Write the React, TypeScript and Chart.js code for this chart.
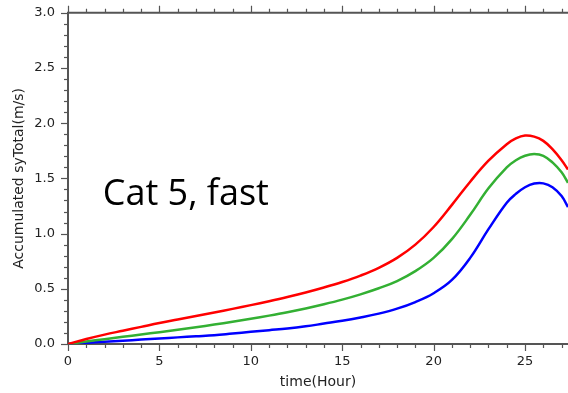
import React, { useEffect, useRef } from "react";
import { Chart, registerables } from "chart.js";

Chart.register(...registerables);

const timeHours = [0, 1, 2, 3, 4, 5, 6, 7, 8, 9, 10, 11, 12, 13, 14, 15, 16, 17, 18, 19, 20, 21, 22, 23, 24, 24.5, 25, 25.5, 26, 26.5, 27, 27.35];
const redSeries = [0, 0.045, 0.085, 0.12, 0.155, 0.19, 0.222, 0.254, 0.286, 0.318, 0.352, 0.388, 0.426, 0.467, 0.512, 0.562, 0.62, 0.69, 0.78, 0.9, 1.06, 1.26, 1.47, 1.66, 1.81, 1.862, 1.888, 1.878, 1.84, 1.765, 1.665, 1.58];
const greenSeries = [0, 0.022, 0.044, 0.065, 0.086, 0.107, 0.129, 0.152, 0.176, 0.201, 0.228, 0.257, 0.288, 0.322, 0.36, 0.402, 0.45, 0.505, 0.57, 0.66, 0.78, 0.95, 1.17, 1.41, 1.6, 1.665, 1.705, 1.72, 1.705, 1.645, 1.555, 1.46];
const blueSeries = [0, 0.01, 0.02, 0.03, 0.04, 0.05, 0.06, 0.07, 0.08, 0.095, 0.11, 0.125, 0.14, 0.16, 0.185, 0.21, 0.24, 0.275, 0.32, 0.38, 0.46, 0.58, 0.78, 1.04, 1.28, 1.36, 1.42, 1.453, 1.455, 1.42, 1.34, 1.24];

const xMin = 0;
const xMax = 27.35;
const yMin = 0;
const yMax = 3.0;
const xTickLabels = [0, 5, 10, 15, 20, 25];
const annotationText = "Cat 5, fast";
const xTitle = "time(Hour)";
const yTitle = "Accumulated syTotal(m/s)";

const toPoints = (vals: number[]) => vals.map((v, i) => ({ x: timeHours[i], y: v }));

const tickPlugin = {
  id: "ncarTicks",
  afterDraw(chart: any) {
    const ctx = chart.ctx;
    const area = chart.chartArea;
    const xs = chart.scales.x;
    const ys = chart.scales.y;
    ctx.save();
    ctx.strokeStyle = "#555";
    ctx.lineWidth = 2;
    ctx.beginPath();
    ctx.moveTo(area.left - 1, area.top);
    ctx.lineTo(area.right, area.top);
    ctx.stroke();
    ctx.lineWidth = 1.2;
    for (let t = 0; t <= Math.floor(xMax); t += 1) {
      const px = Math.round(xs.getPixelForValue(t)) + 0.5;
      const len = t % 5 === 0 ? 7 : 4;
      ctx.beginPath();
      ctx.moveTo(px, area.bottom);
      ctx.lineTo(px, area.bottom + len);
      ctx.moveTo(px, area.top);
      ctx.lineTo(px, area.top - len);
      ctx.stroke();
    }
    for (let k = 0; k <= 30; k += 1) {
      const v = k / 10;
      const py = Math.round(ys.getPixelForValue(v)) + 0.5;
      const len = k % 5 === 0 ? 7 : 4;
      ctx.beginPath();
      ctx.moveTo(area.left, py);
      ctx.lineTo(area.left - len, py);
      ctx.stroke();
    }
    ctx.fillStyle = "#000";
    ctx.font = '36px "Open Sans"';
    ctx.textBaseline = "alphabetic";
    ctx.textAlign = "left";
    ctx.fillText(annotationText, xs.getPixelForValue(1.9), ys.getPixelForValue(1.26));
    ctx.restore();
  },
};

export default function App() {
  const canvasRef = useRef<HTMLCanvasElement | null>(null);

  useEffect(() => {
    if (!canvasRef.current) return;
    const lineDs = (label: string, vals: number[], color: string) => ({
      label,
      data: toPoints(vals),
      borderColor: color,
      backgroundColor: color,
      borderWidth: 2.5,
      pointRadius: 0,
      fill: false,
      tension: 0.4,
    });
    const tickFont = { family: '"DejaVu Sans", sans-serif', size: 13 };
    const titleFont = { family: '"DejaVu Sans", sans-serif', size: 14 };
    const chart = new Chart(canvasRef.current, {
      type: "line",
      data: {
        datasets: [
          lineDs("red", redSeries, "#ff0000"),
          lineDs("green", greenSeries, "#33b033"),
          lineDs("blue", blueSeries, "#0000ff"),
        ],
      },
      options: {
        animation: false,
        responsive: false,
        maintainAspectRatio: false,
        layout: { padding: { top: 10, right: 0, left: 0, bottom: 0 } },
        plugins: { legend: { display: false }, tooltip: { enabled: false } },
        scales: {
          x: {
            type: "linear",
            min: xMin,
            max: xMax,
            afterFit: (s: any) => {
              s.height = 49;
            },
            afterBuildTicks: (s: any) => {
              s.ticks = xTickLabels.map((v) => ({ value: v }));
            },
            ticks: {
              color: "#222",
              font: tickFont,
              padding: 2,
              maxRotation: 0,
              autoSkip: false,
              callback: (v: any) => String(v),
            },
            grid: { drawOnChartArea: false, color: "rgba(0,0,0,0)", tickLength: 8 },
            border: { color: "#555", width: 2 },
            title: { display: true, text: xTitle, color: "#222", font: titleFont, padding: { top: 0, bottom: 2 } },
          },
          y: {
            type: "linear",
            min: yMin,
            max: yMax,
            afterFit: (s: any) => {
              s.width = 68;
            },
            ticks: {
              stepSize: 0.5,
              color: "#222",
              font: tickFont,
              padding: 5,
              autoSkip: false,
              callback: (v: any) => Number(v).toFixed(1),
            },
            grid: { drawOnChartArea: false, color: "rgba(0,0,0,0)", tickLength: 8 },
            border: { color: "#555", width: 2 },
            title: { display: true, text: yTitle, color: "#222", font: titleFont, padding: { top: 11, bottom: 0 } },
          },
        },
      },
      plugins: [tickPlugin],
    });
    return () => chart.destroy();
  }, []);

  return (
    <div style={{ position: "fixed", left: 0, top: 0, width: 568, height: 393, background: "#fff" }}>
      <canvas ref={canvasRef} width={568} height={393} style={{ width: 568, height: 393 }} />
    </div>
  );
}
